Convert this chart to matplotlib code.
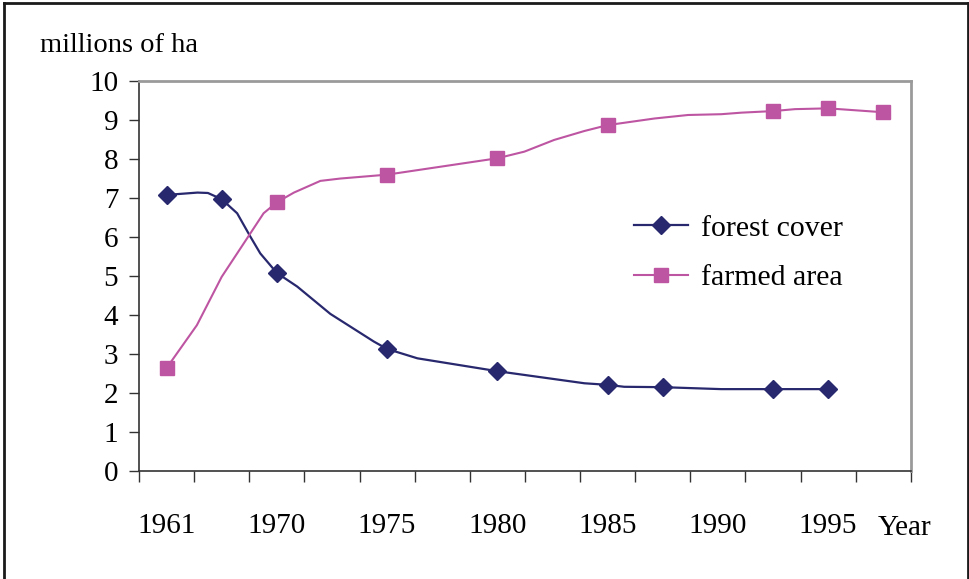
import matplotlib
matplotlib.use("Agg")
import matplotlib.pyplot as plt
from matplotlib.lines import Line2D

plt.rcParams["font.family"] = ["Liberation Serif", "DejaVu Serif"]

# category slots on the x axis (14 slots, label on every second one)
year_labels = ["1961", "1970", "1975", "1980", "1985", "1990", "1995"]
label_slots = [0, 2, 4, 6, 8, 10, 12]
n_slots = 14

# forest cover, millions of ha (slot position, value)
forest_pos = [0, 0.56, 0.75, 1, 1.28, 1.52, 1.70, 2, 2.37, 2.97, 3.76, 4,
              4.55, 6, 7.58, 8, 8.3, 9, 10.06, 11, 12]
forest_val = [7.08, 7.14, 7.13, 6.97, 6.61, 6.01, 5.58, 5.08, 4.73, 4.03, 3.32, 3.13,
              2.89, 2.56, 2.25, 2.21, 2.16, 2.15, 2.10, 2.10, 2.10]
forest_marks = [0, 3, 7, 11, 13, 15, 17, 19, 20]

# farmed area, millions of ha
farmed_pos = [0, 0.55, 1.0, 1.28, 1.76, 2, 2.31, 2.79, 3.15, 4, 6, 6.49, 7.03,
              7.58, 8, 8.25, 8.85, 9.46, 10.06, 10.43, 11, 11.4, 12, 13]
farmed_val = [2.64, 3.74, 4.98, 5.58, 6.61, 6.89, 7.14, 7.44, 7.50, 7.60, 8.02, 8.19, 8.49,
              8.72, 8.87, 8.92, 9.04, 9.13, 9.15, 9.19, 9.23, 9.28, 9.30, 9.20]
farmed_marks = [0, 5, 9, 10, 14, 20, 22, 23]

NAVY = "#28286E"
PINK = "#BE55A2"

fig = plt.figure(figsize=(9.7, 5.79), dpi=100)
ax = fig.add_axes([0.1433, 0.1865, 0.7957, 0.6735])

ax.plot(forest_pos, forest_val, color=NAVY, lw=1.6, marker="D", ms=9,
        markevery=forest_marks, label="forest cover")
ax.plot(farmed_pos, farmed_val, color=PINK, lw=1.5, marker="s", ms=10,
        markevery=farmed_marks, label="farmed area")

ax.set_xlim(-0.5, n_slots - 0.5)
ax.set_ylim(0, 10)
ax.set_yticks(range(0, 11))
ax.set_xticks([i - 0.5 for i in range(n_slots + 1)])
ax.set_xticklabels([])
ax.set_xticks(label_slots, minor=True)
ax.set_xticklabels(year_labels, minor=True)
ax.tick_params(axis="x", which="major", direction="out", length=8, width=1, color="#333333")
ax.tick_params(axis="x", which="minor", length=0, pad=30, labelsize=21)
ax.tick_params(axis="y", direction="out", length=7, width=1, color="#333333", pad=8, labelsize=21)

for side in ("left", "bottom"):
    ax.spines[side].set_color("#333333")
    ax.spines[side].set_linewidth(1.2)
for side in ("top", "right"):
    ax.spines[side].set_color("#9a9a9a")
    ax.spines[side].set_linewidth(2)

ax.legend(loc="center left", bbox_to_anchor=(0.626, 0.563), frameon=False, fontsize=21.5,
          handlelength=1.8, handletextpad=0.45, labelspacing=0.75,
          bbox_transform=fig.transFigure)

fig.text(0.041, 0.922, "millions of ha", fontsize=20.5, va="center", ha="left")
fig.text(0.905, 0.088, "Year", fontsize=21, va="center", ha="left")

# outer frame (no bottom edge)
x0, x1, y1 = 4 / 970, 968 / 970, 1 - 3 / 579
for xs, ys in (([x0, x0], [0, y1]), ([x0, x1], [y1, y1]), ([x1, x1], [y1, 0])):
    fig.add_artist(Line2D(xs, ys, color="#1a1a1a", lw=2, transform=fig.transFigure))

fig.savefig("out.png", dpi=100)
